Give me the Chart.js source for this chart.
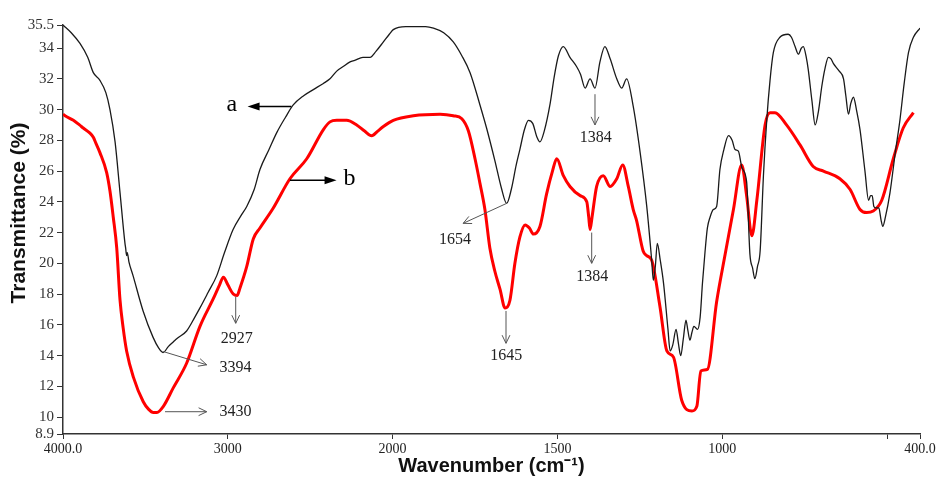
<!DOCTYPE html>
<html>
<head>
<meta charset="utf-8">
<script src="https://cdn.jsdelivr.net/npm/chart.js@4.4.1/dist/chart.umd.min.js"></script>
<style>
body { margin: 0; background: #fff; }
</style>
</head>
<body>
<canvas id="ftir-canvas" width="938" height="485"></canvas>
<script>
// spectrum a (black)
let aWn = [4000, 3950, 3897, 3850, 3816, 3776, 3740, 3715, 3684, 3654, 3624, 3620, 3614, 3610, 3600, 3575, 3514, 3454, 3420, 3393, 3360, 3330, 3310, 3250, 3200, 3169, 3120, 3067, 3020, 2968, 2920, 2885, 2840, 2805, 2750, 2703, 2650, 2603, 2540, 2481, 2420, 2380, 2339, 2300, 2258, 2230, 2180, 2137, 2100, 2056, 2020, 1998, 1960, 1900, 1876, 1845, 1816, 1790, 1765, 1735, 1715, 1690, 1670, 1654, 1640, 1625, 1614, 1600, 1588, 1575, 1562, 1553, 1540, 1522, 1510, 1497, 1482, 1462, 1442, 1430, 1416, 1401, 1386, 1371, 1356, 1340, 1320, 1305, 1290, 1270, 1249, 1229, 1214, 1209, 1203, 1197, 1188, 1178, 1165, 1158, 1150, 1140, 1133, 1126, 1118, 1110, 1104, 1098, 1092, 1086, 1080, 1075, 1067, 1060, 1052, 1045, 1037, 1027, 1017, 1007, 995, 981, 970, 961, 951, 940, 926, 916, 908, 901, 893, 885, 875, 865, 855, 845, 825, 800, 790, 779, 769, 760, 754, 745, 739, 728, 718, 708, 698, 688, 678, 670, 663, 645, 632, 625, 617, 610, 602, 592, 582, 567, 556, 550, 545, 540, 533, 525, 518, 513, 505, 491, 475, 461, 448, 435, 420, 400];
let aT = [35.5, 35.0, 34.3, 33.4, 32.4, 31.9, 31.1, 30.0, 27.9, 24.6, 21.3, 21.0, 20.5, 20.7, 20.1, 19.2, 16.9, 15.2, 14.5, 14.2, 14.6, 14.9, 15.1, 15.6, 16.5, 17.1, 18.1, 19.2, 20.7, 22.2, 23.1, 23.7, 24.8, 26.1, 27.4, 28.5, 29.5, 30.3, 30.9, 31.3, 31.7, 32.0, 32.5, 32.8, 33.1, 33.2, 33.4, 33.4, 33.8, 34.4, 34.9, 35.2, 35.4, 35.4, 35.3, 35.0, 34.4, 33.5, 32.4, 30.3, 28.8, 26.7, 24.9, 23.9, 24.8, 26.4, 27.4, 28.7, 29.3, 29.1, 28.2, 27.9, 28.6, 30.4, 32.1, 33.5, 34.1, 33.4, 32.8, 32.3, 31.4, 32.0, 31.4, 33.1, 34.1, 33.3, 32.0, 31.4, 32.0, 30.2, 27.2, 23.7, 20.2, 18.9, 19.8, 21.3, 20.2, 18.7, 15.8, 14.3, 14.7, 15.7, 14.8, 14.0, 15.1, 16.3, 15.6, 15.0, 15.5, 15.9, 15.8, 15.7, 16.5, 18.7, 20.8, 22.3, 23.0, 23.5, 23.7, 26.1, 27.4, 28.3, 28.0, 27.4, 27.3, 26.2, 25.3, 20.6, 19.7, 19.0, 19.8, 20.8, 25.7, 29.3, 31.9, 33.7, 34.7, 34.9, 34.7, 34.1, 33.6, 34.0, 34.1, 33.4, 32.6, 30.6, 29.0, 29.9, 31.5, 32.7, 33.4, 33.3, 33.0, 32.5, 32.0, 30.9, 29.7, 30.4, 30.8, 29.9, 28.7, 26.0, 24.1, 24.4, 24.4, 23.7, 23.6, 23.6, 22.8, 22.4, 23.0, 24.6, 27.2, 29.3, 31.7, 33.7, 34.7, 35.3];

// spectrum b (red)
let bWn = [4000, 3988, 3937, 3900, 3877, 3840, 3816, 3800, 3776, 3735, 3715, 3695, 3674, 3654, 3635, 3614, 3573, 3513, 3480, 3452, 3430, 3391, 3331, 3250, 3169, 3088, 3050, 3027, 3000, 2967, 2944, 2926, 2885, 2845, 2805, 2724, 2623, 2521, 2420, 2380, 2339, 2279, 2218, 2170, 2127, 2090, 2056, 1998, 1937, 1856, 1816, 1790, 1770, 1750, 1735, 1720, 1705, 1690, 1674, 1659, 1644, 1629, 1614, 1598, 1585, 1573, 1553, 1533, 1515, 1502, 1482, 1462, 1431, 1411, 1405, 1401, 1395, 1381, 1361, 1340, 1320, 1302, 1285, 1270, 1260, 1240, 1229, 1214, 1189, 1168, 1148, 1123, 1092, 1077, 1065, 1045, 1017, 991, 966, 941, 926, 910, 895, 870, 855, 840, 805, 764, 724, 693, 643, 612, 582, 562, 542, 516, 481, 451, 420];
let bT = [29.7, 29.6, 29.3, 29.0, 28.8, 28.5, 28.2, 27.8, 27.2, 25.9, 24.7, 23.0, 21.0, 17.6, 15.8, 14.3, 12.6, 11.0, 10.5, 10.3, 10.3, 10.7, 11.9, 13.5, 15.9, 17.7, 18.6, 19.1, 18.6, 18.0, 17.9, 18.4, 19.8, 21.6, 22.3, 23.6, 25.5, 26.8, 28.7, 29.2, 29.3, 29.3, 29.0, 28.6, 28.3, 28.6, 28.9, 29.3, 29.6, 29.7, 29.6, 29.4, 28.6, 26.8, 25.2, 23.5, 21.0, 19.5, 18.3, 17.1, 17.6, 20.0, 21.7, 22.5, 22.3, 21.9, 22.4, 24.5, 26.0, 26.8, 25.7, 25.0, 24.4, 24.0, 23.0, 22.2, 23.0, 25.0, 25.7, 25.0, 25.5, 26.4, 25.0, 23.5, 22.8, 20.8, 20.5, 20.2, 17.2, 14.3, 13.9, 11.1, 10.4, 10.7, 13.0, 13.1, 17.5, 20.6, 23.5, 26.4, 24.4, 21.8, 24.1, 29.0, 29.8, 29.8, 29.0, 27.7, 26.3, 26.0, 25.5, 24.8, 23.5, 23.3, 23.4, 24.1, 26.8, 28.8, 29.8];

// axis ticks
let xTickWn = [4000, 3000, 2000, 1500, 1000, 500, 400];
let xTickLabels = ["4000.0", "3000", "2000", "1500", "1000", "", "400.0"];
let yTicks = [8.9, 10, 12, 14, 16, 18, 20, 22, 24, 26, 28, 30, 32, 34, 35.5];
let yTickLabels = ["8.9", "10", "12", "14", "16", "18", "20", "22", "24", "26", "28", "30", "32", "34", "35.5"];
let yTitle = "Transmittance (%)";

// peak labels: [text, from wn, from T, to wn, to T, text wn, text T, align]
let peakLabels = [
	["3394", 3391, 14.26, 3128, 13.4, 3050, 13.2, "left"],
	["3430", 3381, 10.35, 3128, 10.35, 3050, 10.35, "left"],
	["2927", 2952, 17.84, 2952, 16.1, 2946, 15.1, "center"],
	["1654", 1654, 23.9, 1786, 22.6, 1811, 21.5, "center"],
	["1645", 1656, 16.9, 1656, 14.8, 1655, 14.0, "center"],
	["1384", 1396, 22.0, 1396, 20.0, 1394, 19.1, "center"],
	["1384", 1386, 31.0, 1386, 29.0, 1384, 28.15, "center"]
];
// curve names: [text, from wn, to wn, T, text wn]
let curveNames = [
	["a", 2615, 2880, 30.2, 2975],
	["b", 2623, 2340, 25.4, 2262]
];

// wavenumber axis changes scale at 2000 cm-1
function toU(wn){
	return wn >= 2000 ? 4000 - wn : 6000 - 2 * wn;
}

function points(wn, t){
	let out = [];
	for(let i = 0; i < wn.length; i++){
		out.push({ x: toU(wn[i]), y: t[i] });
	}
	return out;
}

let labelPlugin = {
	id: "peakLabels",
	afterDatasetsDraw(chart){
		let ctx = chart.ctx;
		let xs = chart.scales.x, ys = chart.scales.y;
		let px = w => xs.getPixelForValue(toU(w));
		let py = t => ys.getPixelForValue(t);
		ctx.save();

		ctx.strokeStyle = "#555";
		ctx.fillStyle = "#222";
		ctx.lineWidth = 1;
		ctx.font = "16px 'Liberation Serif'";
		ctx.textBaseline = "middle";
		for(let p of peakLabels){
			let x1 = px(p[1]), y1 = py(p[2]), x2 = px(p[3]), y2 = py(p[4]);
			let ang = Math.atan2(y2 - y1, x2 - x1);
			ctx.beginPath();
			ctx.moveTo(x1, y1);
			ctx.lineTo(x2, y2);
			ctx.moveTo(x2 - 9 * Math.cos(ang - 0.45), y2 - 9 * Math.sin(ang - 0.45));
			ctx.lineTo(x2, y2);
			ctx.lineTo(x2 - 9 * Math.cos(ang + 0.45), y2 - 9 * Math.sin(ang + 0.45));
			ctx.stroke();
			ctx.textAlign = p[7];
			ctx.fillText(p[0], px(p[5]), py(p[6]));
		}

		ctx.strokeStyle = "#000";
		ctx.fillStyle = "#000";
		ctx.lineWidth = 1.5;
		ctx.font = "24px 'Liberation Serif'";
		ctx.textAlign = "center";
		for(let n of curveNames){
			let x1 = px(n[1]), x2 = px(n[2]), y = py(n[3]);
			let dir = x2 > x1 ? 1 : -1;
			ctx.beginPath();
			ctx.moveTo(x1, y);
			ctx.lineTo(x2 - dir * 10, y);
			ctx.stroke();
			ctx.beginPath();
			ctx.moveTo(x2, y);
			ctx.lineTo(x2 - dir * 12, y - 4);
			ctx.lineTo(x2 - dir * 12, y + 4);
			ctx.closePath();
			ctx.fill();
			ctx.fillText(n[0], px(n[4]), y - 2);
		}

		// y axis title, set a little above the middle as in the original
		ctx.translate(19, 213);
		ctx.rotate(-Math.PI / 2);
		ctx.fillStyle = "#111";
		ctx.font = "bold 21px 'Liberation Sans'";
		ctx.fillText(yTitle, 0, 0);
		ctx.restore();
	}
};

let chart = new Chart("ftir-canvas", {
	type: "line",
	data: {
		datasets: [{
			label: "a",
			data: points(aWn, aT),
			borderColor: "#1a1a1a",
			borderWidth: 1.3,
			pointRadius: 0,
			cubicInterpolationMode: "monotone"
		},
		{
			label: "b",
			data: points(bWn, bT),
			borderColor: "#ff0000",
			borderWidth: 3,
			pointRadius: 0,
			cubicInterpolationMode: "monotone"
		}]
	},
	options: {
		responsive: false,
		animation: false,
		layout: { padding: { top: 25, right: 18, left: 0, bottom: 0 } },
		plugins: {
			legend: { display: false },
			tooltip: { enabled: false }
		},
		scales: {
			x: {
				type: "linear",
				min: 0,
				max: 5200,
				afterBuildTicks: scale => { scale.ticks = xTickWn.map(w => ({ value: toU(w) })); },
				afterFit: scale => { scale.height = 51; },
				ticks: {
					autoSkip: false,
					maxRotation: 0,
					padding: 2,
					color: "#222",
					font: { family: "'Liberation Serif'", size: 14 },
					callback: (v, i) => xTickLabels[i]
				},
				grid: { drawOnChartArea: false, drawTicks: true, tickLength: 5, color: "#333" },
				border: { color: "#333", width: 1.5 },
				title: {
					display: true,
					text: "Wavenumber (cm\u207B\u00B9)",
					color: "#111",
					font: { family: "'Liberation Sans'", size: 20, weight: "bold" },
					padding: { top: 0, bottom: 7 }
				}
			},
			y: {
				min: 8.9,
				max: 35.5,
				afterBuildTicks: scale => { scale.ticks = yTicks.map(v => ({ value: v })); },
				afterFit: scale => { scale.width = 63; },
				ticks: {
					autoSkip: false,
					padding: 3,
					color: "#333",
					font: { family: "'Liberation Serif'", size: 15 },
					callback: (v, i) => yTickLabels[i]
				},
				grid: { drawOnChartArea: false, drawTicks: true, tickLength: 6, color: "#333" },
				border: { color: "#333", width: 1.5 }
			}
		}
	},
	plugins: [labelPlugin]
});
</script>
</body>
</html>
